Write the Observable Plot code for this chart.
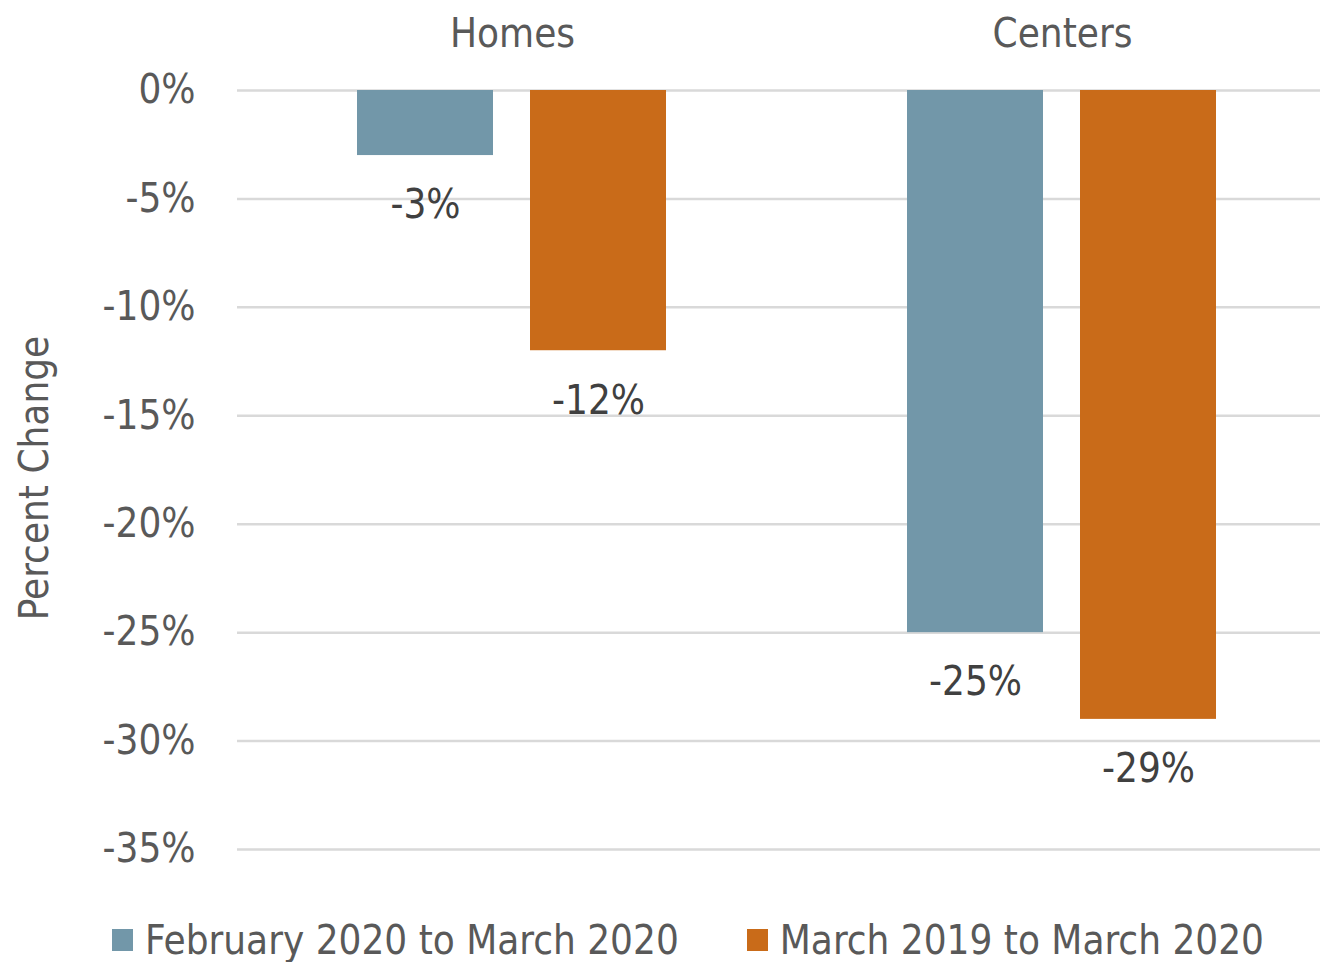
<!DOCTYPE html>
<html>
<head>
<meta charset="utf-8">
<script src="https://cdn.jsdelivr.net/npm/d3@7"></script>
<script src="https://cdn.jsdelivr.net/npm/@observablehq/plot@0.6"></script>
<style>
  html, body { margin: 0; padding: 0; background: #fff; overflow: hidden; }
  #wrap { position: relative; width: 1320px; height: 962px; }
  .legend { position: absolute; left: 112px; top: 917px; display: flex; align-items: center;
    font-family: "DejaVu Sans Condensed", "DejaVu Sans", sans-serif; font-size: 40px; color: #595959; }
  .item { display: flex; align-items: center; }
  .sw { width: 21px; height: 22px; margin-right: 12px; }
</style>
</head>
<body>
<div id="wrap"></div>
<script>
const categories = ["Homes", "Centers"];
const series = ["February 2020 to March 2020", "March 2019 to March 2020"];
const febToMar2020 = [-3, -25];
const mar2019ToMar2020 = [-12, -29];
const yTicks = [0, -5, -10, -15, -20, -25, -30, -35];
const colors = ["#7297a9", "#c96b19"];

const rows = [];
categories.forEach((c, i) => {
  rows.push({category: c, series: series[0], value: febToMar2020[i]});
  rows.push({category: c, series: series[1], value: mar2019ToMar2020[i]});
});

const font = '"DejaVu Sans Condensed", "DejaVu Sans", sans-serif';

const chart = Plot.plot({
  width: 1320,
  height: 895,
  marginLeft: 237,
  marginRight: -17,
  marginTop: 90,
  marginBottom: 46,
  style: {fontFamily: font, fontSize: "40px", color: "#595959", background: "#fff", overflow: "hidden"},
  fx: {domain: categories, padding: 0, axis: "top", tickSize: 0, tickPadding: 44, label: null},
  x: {domain: series, paddingInner: 0.2126, paddingOuter: 0.687, axis: null},
  y: {domain: [-35, 0], ticks: yTicks, tickFormat: d => `${d}%`, tickSize: 0, tickPadding: 42, label: null},
  color: {domain: series, range: colors},
  marks: [
    Plot.ruleY(yTicks, {stroke: "#d9d9d9", strokeWidth: 2.5}),
    Plot.barY(rows, {fx: "category", x: "series", y1: 0, y2: "value", fill: "series"}),
    Plot.text(rows, {fx: "category", x: "series", y: "value", text: d => `${d.value}%`, dy: 50, fill: "#404040", fontSize: 40}),
    Plot.text(["Percent Change"], {fx: () => "Homes", frameAnchor: "left", textAnchor: "middle", rotate: -90, dx: -202, dy: 8, fontSize: 40, fill: "#595959"})
  ]
});
document.getElementById("wrap").appendChild(chart);

const legend = document.createElement("div");
legend.className = "legend";
series.forEach((s, i) => {
  const it = document.createElement("div");
  it.className = "item";
  if (i > 0) it.style.marginLeft = "68px";
  const sw = document.createElement("div");
  sw.className = "sw";
  sw.style.background = colors[i];
  const t = document.createElement("span");
  t.textContent = s;
  it.appendChild(sw); it.appendChild(t);
  legend.appendChild(it);
});
document.getElementById("wrap").appendChild(legend);
</script>
</body>
</html>
